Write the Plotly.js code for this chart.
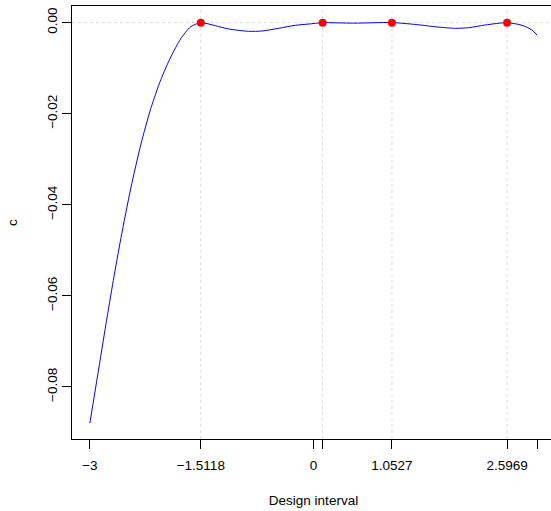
<!DOCTYPE html>
<html>
<head>
<meta charset="utf-8">
<script src="https://cdn.plot.ly/plotly-3.0.1.min.js"></script>
<style>
html, body { margin: 0; padding: 0; overflow: hidden; background: #ffffff; }
#chart { width: 556px; height: 511px; }
</style>
</head>
<body>
<div id="chart"></div>
<script>
// Curve
var curveX = [-3.000, -2.8932, -2.7859, -2.6854, -2.5848, -2.4507, -2.3167, -2.1826, -2.0485, -1.9145, -1.7804, -1.6463, -1.5118,
  -1.315, -1.137, -0.869, -0.689, -0.467, -0.243, -0.064, 0.123, 0.539, 1.0527, 1.433, 1.657, 1.902, 2.081, 2.305,
  2.5969, 2.797, 2.931, 2.998];
var curveY = [-0.08795, -0.07721, -0.06637, -0.05660, -0.04742, -0.03633, -0.02678, -0.01884, -0.01251, -0.00753, -0.00351, -0.00088, 0.0,
  -0.00066, -0.00138, -0.00189, -0.00182, -0.00123, -0.00057, -0.00029, 0.0, -0.00010, 0.00003, -0.00050, -0.00094, -0.00123, -0.00110, -0.00050,
  0.0, -0.00057, -0.00160, -0.00270];

// Design support points
var designX = [-1.5118, 0.123, 1.0527, 2.5969];
var designY = [0, 0, 0, 0];

// Axis ticks
var xTickVals = [-3, -1.5118, 0, 0.123, 1.0527, 2.5969, 3];
var xTickText = ['\u22123', '\u22121.5118', '0', '', '1.0527', '2.5969', ''];
var yTickVals = [0, -0.02, -0.04, -0.06, -0.08];
var yTickText = ['0.00', '\u22120.02', '\u22120.04', '\u22120.06', '\u22120.08'];

var traces = [
  { x: curveX, y: curveY, type: 'scatter', mode: 'lines',
    line: { color: '#0000ff', width: 1, shape: 'spline', smoothing: 0.7 }, hoverinfo: 'skip' },
  { x: designX, y: designY, type: 'scatter', mode: 'markers',
    marker: { color: '#ff0000', size: 8 } }
];

var shapes = [];
designX.forEach(function (v) {
  shapes.push({ type: 'line', xref: 'x', yref: 'paper', x0: v, x1: v, y0: 0, y1: 1,
    line: { color: '#dcdcdc', width: 1, dash: 'dot' }, layer: 'below' });
});
shapes.push({ type: 'line', xref: 'paper', yref: 'y', x0: 0, x1: 1, y0: 0, y1: 0,
  line: { color: '#dcdcdc', width: 1, dash: 'dot' }, layer: 'below' });

var font = { family: 'Liberation Sans, Arial, sans-serif', size: 13.5, color: '#000000' };

var layout = {
  width: 556, height: 511,
  margin: { l: 72, r: 1, t: 6, b: 72 },
  paper_bgcolor: '#ffffff', plot_bgcolor: '#ffffff',
  showlegend: false,
  font: font,
  shapes: shapes,
  xaxis: {
    range: [-3.24, 3.24], showgrid: false, zeroline: false,
    showline: true, mirror: true, linecolor: '#000000', linewidth: 1,
    ticks: 'outside', ticklen: 9, tickcolor: '#000000', ticklabelstandoff: 5,
    tickvals: xTickVals, ticktext: xTickText, tickfont: font,
    title: { text: 'Design interval', font: font, standoff: 23 }
  },
  yaxis: {
    range: [-0.09146, 0.00367], showgrid: false, zeroline: false,
    showline: true, mirror: true, linecolor: '#000000', linewidth: 1,
    ticks: 'outside', ticklen: 9, tickcolor: '#000000',
    tickvals: yTickVals, ticktext: yTickText, tickfont: font, tickangle: -90,
    title: { text: 'c', font: font, standoff: 23 }
  }
};

Plotly.newPlot('chart', traces, layout, { staticPlot: true, displayModeBar: false });
</script>
</body>
</html>
